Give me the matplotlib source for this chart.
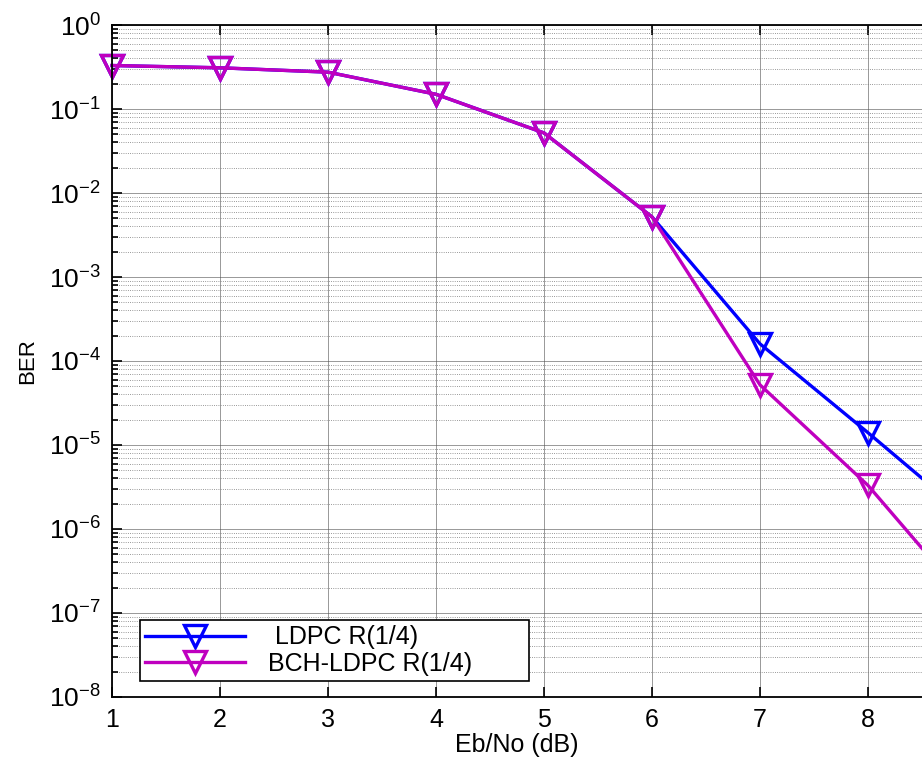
import matplotlib.pyplot as plt
import numpy as np

plt.rcParams['font.family'] = ['Liberation Sans', 'DejaVu Sans']
plt.rcParams['mathtext.fontset'] = 'custom'
plt.rcParams['mathtext.rm'] = 'Liberation Sans'

# Eb/No points and measured bit error rates
ebno = [1, 2, 3, 4, 5, 6, 7, 8, 9]
ber_ldpc = [0.33, 0.31, 0.275, 0.15, 0.052, 0.0052, 1.6e-4, 1.4e-5, 1.15e-6]
ber_bch_ldpc = [0.33, 0.31, 0.275, 0.15, 0.052, 0.0052, 5.2e-5, 3.3e-6, 1.05e-7]
series_labels = [' LDPC R(1/4)', 'BCH-LDPC R(1/4)']
decades = list(range(-8, 1))


def main():
    fig = plt.figure(figsize=(9.22, 7.6), dpi=100)
    ax = fig.add_axes([0.1215, 0.083, 0.8785, 0.884])

    style = dict(marker='v', markersize=16, markerfacecolor='none',
                 markeredgewidth=2.4, linewidth=2.4, clip_on=False)
    ax.semilogy(ebno, ber_ldpc, color='#0000ff', label=series_labels[0], **style)
    ax.semilogy(ebno, ber_bch_ldpc, color='#bf00bf', label=series_labels[1], **style)

    ax.set_xlim(1, 8.5)
    ax.set_ylim(1e-8, 1)
    ax.set_xticks([1, 2, 3, 4, 5, 6, 7, 8])
    ax.set_yticks([10.0 ** k for k in decades])
    ax.set_yticklabels([r'$\mathregular{10^{%d}}$' % k for k in decades])

    ax.grid(True, which='major', color='#555555', linestyle='-', linewidth=0.6, alpha=0.7)
    ax.grid(True, which='minor', axis='y', color='#777777', linestyle=':', linewidth=0.6)
    ax.tick_params(which='both', direction='in', top=True, right=False, width=1.2)
    ax.tick_params(axis='x', labelsize=18, pad=8)
    ax.tick_params(axis='y', labelsize=19, pad=8)
    ax.tick_params(which='major', length=7)
    ax.tick_params(which='minor', length=4)
    for side in ['left', 'bottom', 'top']:
        ax.spines[side].set_linewidth(1.3)
    ax.spines['right'].set_visible(False)

    ax.set_xlabel('Eb/No (dB)', fontsize=18, labelpad=1)
    ax.set_ylabel('BER', fontsize=16, labelpad=8)

    leg = ax.legend(loc='lower left', bbox_to_anchor=(0.035, 0.024, 0.48, 0.106),
                    mode='expand', fontsize=18, frameon=True, fancybox=False,
                    edgecolor='black', handlelength=4.0, handletextpad=0.9,
                    borderaxespad=0, borderpad=0.2, labelspacing=0.1)
    leg.get_frame().set_linewidth(1.2)
    leg.get_frame().set_alpha(1)

    fig.savefig('out.png', dpi=100)


if __name__ == "__main__":
    main()
